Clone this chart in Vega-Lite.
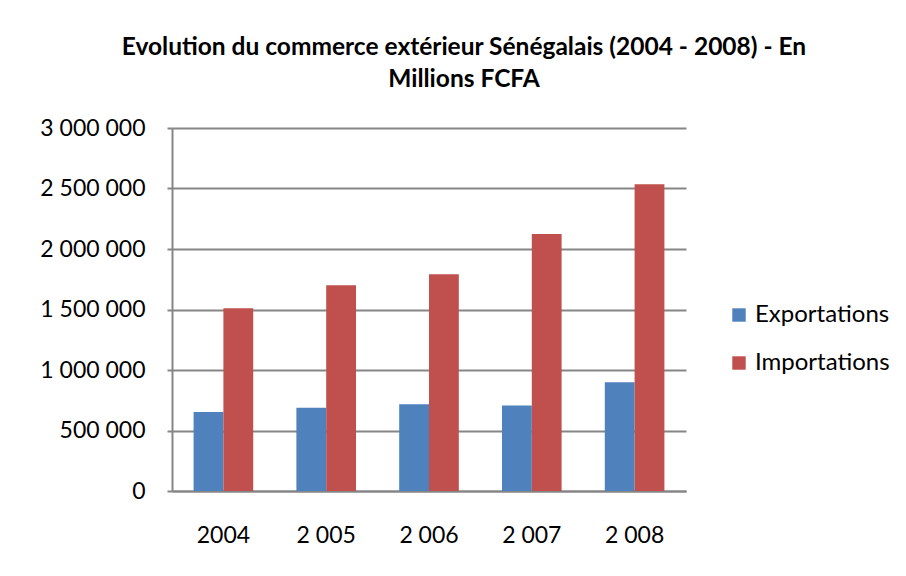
{
  "$schema": "https://vega.github.io/schema/vega-lite/v6.json",
  "width": 514,
  "height": 363,
  "autosize": {"type": "none"},
  "padding": {"left": 172, "top": 128, "right": 220, "bottom": 85},
  "background": "white",
  "title": {
    "text": ["Evolution du commerce extérieur Sénégalais (2004 - 2008) - En", "Millions FCFA"],
    "font": "Lato",
    "fontSize": 24.5,
    "fontWeight": "bold",
    "color": "#000000",
    "anchor": "middle",
    "lineHeight": 32,
    "offset": 25,
    "dx": 35
  },
  "data": {
    "values": [
      {"annee": "2004", "serie": "Exportations", "valeur": 653000},
      {"annee": "2004", "serie": "Importations", "valeur": 1510000},
      {"annee": "2 005", "serie": "Exportations", "valeur": 689000},
      {"annee": "2 005", "serie": "Importations", "valeur": 1700000},
      {"annee": "2 006", "serie": "Exportations", "valeur": 717000},
      {"annee": "2 006", "serie": "Importations", "valeur": 1791000},
      {"annee": "2 007", "serie": "Exportations", "valeur": 706000},
      {"annee": "2 007", "serie": "Importations", "valeur": 2124000},
      {"annee": "2 008", "serie": "Exportations", "valeur": 898000},
      {"annee": "2 008", "serie": "Importations", "valeur": 2535000}
    ]
  },
  "mark": {"type": "bar"},
  "encoding": {
    "x": {
      "field": "annee",
      "type": "nominal",
      "sort": null,
      "scale": {"paddingInner": 0.42, "paddingOuter": 0.21},
      "axis": {
        "title": null,
        "labelAngle": 0,
        "labelFont": "Lato",
        "labelFontSize": 23,
        "labelColor": "#000000",
        "labelPadding": 33,
        "ticks": false,
        "domainColor": "#868686",
        "domainWidth": 2
      }
    },
    "xOffset": {"field": "serie", "type": "nominal"},
    "y": {
      "field": "valeur",
      "type": "quantitative",
      "scale": {"domain": [0, 3000000], "nice": false},
      "axis": {
        "title": null,
        "values": [0, 500000, 1000000, 1500000, 2000000, 2500000, 3000000],
        "format": ",d",
        "labelFont": "Lato",
        "labelFontSize": 23,
        "labelColor": "#000000",
        "labelPadding": 22,
        "tickSize": 5,
        "tickColor": "#868686",
        "tickWidth": 2,
        "domainColor": "#868686",
        "domainWidth": 2,
        "grid": true,
        "gridColor": "#868686",
        "gridWidth": 2
      }
    },
    "color": {
      "field": "serie",
      "type": "nominal",
      "scale": {"domain": ["Exportations", "Importations"], "range": ["#4F81BD", "#C0504D"]},
      "legend": {
        "title": null,
        "orient": "none",
        "legendX": 555,
        "legendY": 175,
        "symbolType": "square",
        "symbolSize": 180,
        "symbolStrokeWidth": 0,
        "labelFont": "Lato",
        "labelFontSize": 24,
        "labelColor": "#000000",
        "labelOffset": 4,
        "rowPadding": 24
      }
    }
  },
  "config": {
    "view": {"stroke": null},
    "locale": {
      "number": {"decimal": ",", "thousands": " ", "grouping": [3], "currency": ["", ""]}
    }
  }
}
